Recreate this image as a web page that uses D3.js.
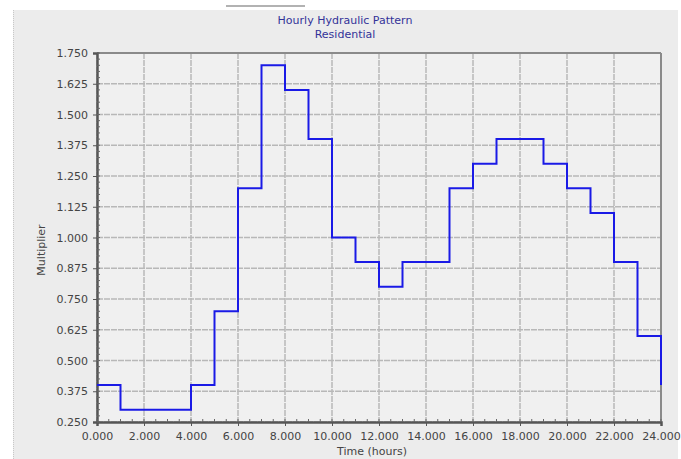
<!DOCTYPE html>
<html><head><meta charset="utf-8">
<script src="https://cdn.jsdelivr.net/npm/d3@7"></script>
<style>body{margin:0;background:#fff;font-family:"DejaVu Sans",Tahoma,sans-serif;}</style>
</head><body>
<svg id="c" width="681" height="459"></svg>
<script>
const hours = d3.range(0, 25);
const multipliers = [0.4,0.3,0.3,0.3,0.4,0.7,1.2,1.7,1.6,1.4,1.0,0.9,0.8,0.9,0.9,1.2,1.3,1.4,1.4,1.3,1.2,1.1,0.9,0.6,0.4];
const xTicks = [0,2,4,6,8,10,12,14,16,18,20,22,24];
const yTicks = [0.25,0.375,0.5,0.625,0.75,0.875,1.0,1.125,1.25,1.375,1.5,1.625,1.75];
const titleLines = ["Hourly Hydraulic Pattern","Residential"];

const svg = d3.select("#c");
const L=97,R=661,T=53,B=422;
const x = d3.scaleLinear().domain([0,24]).range([L,R]);
const y = d3.scaleLinear().domain([0.25,1.75]).range([B,T]);

svg.append("rect").attr("x",13).attr("y",10).attr("width",665).attr("height",449).attr("fill","#ececec");
svg.append("line").attr("x1",13.5).attr("x2",13.5).attr("y1",10).attr("y2",459).attr("stroke","#c8c8c8").attr("stroke-dasharray","1,1");
svg.append("line").attr("x1",226).attr("x2",305).attr("y1",6).attr("y2",6).attr("stroke","#999").attr("stroke-width",1.5);
svg.append("rect").attr("x",L).attr("y",T).attr("width",R-L).attr("height",B-T).attr("fill","#f0f0f0");

// grid
svg.append("g").selectAll("line").data(xTicks).join("line")
 .attr("x1",d=>x(d)).attr("x2",d=>x(d)).attr("y1",T).attr("y2",B)
 .attr("stroke","#b8b8b8").attr("stroke-width",1.5).attr("stroke-dasharray","6,1");
svg.append("g").selectAll("line").data(yTicks).join("line")
 .attr("x1",L).attr("x2",R).attr("y1",d=>y(d)).attr("y2",d=>y(d))
 .attr("stroke","#b8b8b8").attr("stroke-width",1.5).attr("stroke-dasharray","6,1");

// frame
svg.append("line").attr("x1",L).attr("x2",R).attr("y1",T).attr("y2",T).attr("stroke","#8a8a8a").attr("stroke-width",2);
svg.append("line").attr("x1",R).attr("x2",R).attr("y1",T).attr("y2",B).attr("stroke","#8a8a8a").attr("stroke-width",2);

// axes
const xAx = svg.append("g").attr("transform",`translate(0,${B})`)
 .call(d3.axisBottom(x).tickValues(xTicks).tickFormat(d3.format(".3f")).tickSize(4).tickPadding(6));
const yAx = svg.append("g").attr("transform",`translate(${L},0)`)
 .call(d3.axisLeft(y).tickValues(yTicks).tickFormat(d3.format(".3f")).tickSize(4).tickPadding(5));
[xAx,yAx].forEach(a=>{
 a.select(".domain").attr("stroke","#555").attr("stroke-width",2.5);
 a.selectAll(".tick line").attr("stroke","#555");
 a.selectAll("text").attr("fill","#444").style("font-size","11px").style("font-family","'DejaVu Sans',Tahoma,sans-serif");
});
// minor ticks
svg.append("g").selectAll("line").data(d3.range(0,24.01,0.5)).join("line")
 .attr("x1",d=>x(d)).attr("x2",d=>x(d)).attr("y1",B).attr("y2",B-3).attr("stroke","#666");
svg.append("g").selectAll("line").data(d3.range(61).map(i=>0.25+i*0.025)).join("line")
 .attr("x1",L).attr("x2",L+3).attr("y1",d=>y(d)).attr("y2",d=>y(d)).attr("stroke","#666");

// line
const line = d3.line().x((d,i)=>x(hours[i])).y(d=>y(d)).curve(d3.curveStepAfter);
svg.append("path").datum(multipliers).attr("d",line).attr("fill","none").attr("stroke","#1a1ae6").attr("stroke-width",2);

// titles
svg.append("g").selectAll("text").data(titleLines).join("text")
 .attr("x",345).attr("y",(d,i)=>24+i*14).attr("text-anchor","middle")
 .attr("fill","#333399").style("font-size","11px").text(d=>d);
svg.append("text").attr("x",372).attr("y",455).attr("text-anchor","middle").attr("fill","#444").style("font-size","11px").text("Time (hours)");
svg.append("text").attr("transform","translate(45,250) rotate(-90)").attr("text-anchor","middle").attr("fill","#444").style("font-size","11px").text("Multiplier");
</script>
</body></html>
